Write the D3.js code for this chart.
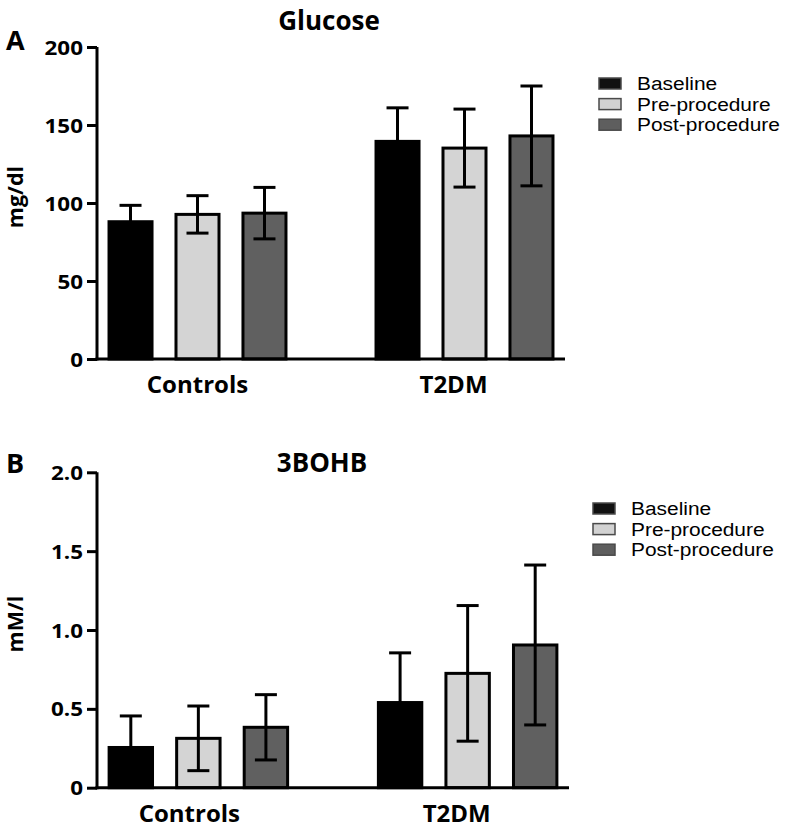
<!DOCTYPE html>
<html>
<head>
<meta charset="utf-8">
<script src="https://cdn.jsdelivr.net/npm/d3@7"></script>
<style>
  html, body { margin: 0; padding: 0; background: #fff; }
  svg { display: block; }
</style>
</head>
<body>
<svg id="chart" width="786" height="833"></svg>
<script>
// ---------------- DATA ----------------
const categories = ["Controls", "T2DM"];
const seriesNames = ["Baseline", "Pre-procedure", "Post-procedure"];
const seriesColors = ["#000000", "#d4d4d4", "#606060"];
const legendColors = ["#111111", "#d2d2d2", "#5e5e5e"];

// Glucose (mg/dl): per category, values for [Baseline, Pre, Post]
const glucoseMean = [[88, 92.7, 93.5], [139.5, 135.2, 143]];
const glucoseErr  = [[10.5, 12, 16.5], [21.5, 25, 32]];
const glucoseTicks = [0, 50, 100, 150, 200];
const glucoseTickLabels = ["0", "50", "100", "150", "200"];

// 3BOHB (mM/l)
const bohbMean = [[0.255, 0.313, 0.383], [0.54, 0.725, 0.905]];
const bohbErr  = [[0.2, 0.205, 0.207], [0.315, 0.43, 0.507]];
const bohbTicks = [0, 0.5, 1.0, 1.5, 2.0];
const bohbTickLabels = ["0", "0.5", "1.0", "1.5", "2.0"];

// ---------------- DRAW ----------------
const svg = d3.select("#chart");
const BOLD = "'Open Sans', 'DejaVu Sans', sans-serif";
const REG = "'Liberation Sans', Arial, sans-serif";

function btext(g, x, y, txt, size, anchor, sx, rotate) {
  return g.append("text")
    .attr("transform", `translate(${x},${y})` + (rotate ? ` rotate(${rotate})` : "") + ` scale(${sx || 1},1)`)
    .attr("text-anchor", anchor || "start")
    .style("font-family", BOLD)
    .style("font-weight", 700)
    .style("font-size", size + "px")
    .attr("fill", "#000")
    .text(txt);
}

function panel(cfg) {
  const g = svg.append("g");
  const y = d3.scaleLinear().domain([0, cfg.ymax]).range([cfg.yBottom, cfg.yTop]);
  const x0 = d3.scaleBand().domain(categories).range(cfg.xRange)
    .paddingInner(0.326).paddingOuter(0.0394);
  const x1 = d3.scaleBand().domain(seriesNames).range([0, x0.bandwidth()])
    .paddingInner(0.313).paddingOuter(0);

  const rows = [];
  categories.forEach((c, ci) => {
    seriesNames.forEach((s, si) => {
      rows.push({ c, s, si, v: cfg.mean[ci][si], e: cfg.err[ci][si] });
    });
  });

  // bars
  g.selectAll("rect.bar").data(rows).enter().append("rect")
    .attr("class", "bar")
    .attr("x", d => x0(d.c) + x1(d.s) + 1.5)
    .attr("width", x1.bandwidth() - 3)
    .attr("y", d => y(d.v))
    .attr("height", d => y(0) - y(d.v))
    .attr("fill", d => seriesColors[d.si])
    .attr("stroke", "#000")
    .attr("stroke-width", 3);

  // error bars
  const cx = d => x0(d.c) + x1(d.s) + x1.bandwidth() / 2;
  const eb = g.selectAll("g.err").data(rows).enter().append("g").attr("class", "err")
    .attr("stroke", "#000").attr("stroke-width", 3);
  eb.append("line")
    .attr("x1", cx).attr("x2", cx)
    .attr("y1", d => y(d.v + d.e)).attr("y2", d => y(Math.max(0, d.v - d.e)));
  eb.append("line")
    .attr("x1", d => cx(d) - 11).attr("x2", d => cx(d) + 11)
    .attr("y1", d => y(d.v + d.e)).attr("y2", d => y(d.v + d.e));
  eb.append("line")
    .attr("x1", d => cx(d) - 11).attr("x2", d => cx(d) + 11)
    .attr("y1", d => y(d.v - d.e)).attr("y2", d => y(d.v - d.e));

  // y axis
  const ya = g.append("g").attr("transform", `translate(${cfg.xRange[0]},0)`)
    .call(d3.axisLeft(y).tickValues(cfg.ticks).tickFormat((d, i) => cfg.tickLabels[i])
      .tickSize(10).tickSizeOuter(0));
  ya.select(".domain").attr("stroke", "#000").attr("stroke-width", 3)
    .attr("d", `M0,${cfg.yBottom + 1.5}V${cfg.yTop}`);
  ya.selectAll(".tick line").attr("stroke", "#000").attr("stroke-width", 3);
  ya.selectAll(".tick text")
    .attr("x", -14 / 1.15)
    .attr("transform", "scale(1.15,1)")
    .attr("dy", "0.36em")
    .style("font-family", BOLD).style("font-weight", 700).style("font-size", "19.5px")
    .attr("fill", "#000");

  // x axis
  const xa = g.append("g").attr("transform", `translate(0,${cfg.yBottom})`)
    .call(d3.axisBottom(x0).tickSize(0).tickSizeOuter(0));
  xa.select(".domain").attr("stroke", "#000").attr("stroke-width", 3)
    .attr("d", `M${cfg.xRange[0] - 1.5},0H${cfg.xRange[1]}`);
  xa.selectAll(".tick text")
    .attr("y", 0).attr("dy", 0)
    .attr("transform", (d, i) => `translate(${cfg.labelShift[i]},${cfg.labelDy})`)
    .style("font-family", BOLD).style("font-weight", 700).style("font-size", "24px")
    .attr("fill", "#000");

  // y label
  btext(g, cfg.yLabelX, (cfg.yTop + cfg.yBottom) / 2 - 6, cfg.yLabel, 21.5, "middle", 1, -90);
  // title
  btext(g, cfg.titleX, cfg.titleY, cfg.title, 26, "middle", 1);
  // panel letter
  btext(g, 6, cfg.letterY, cfg.letter, 27, "start", 1);

  // legend
  const lg = g.append("g");
  seriesNames.forEach((s, i) => {
    const yy = cfg.legendY + i * cfg.legendStep;
    lg.append("rect")
      .attr("x", cfg.legendX + 1).attr("y", yy - 12)
      .attr("width", 22).attr("height", 11)
      .attr("fill", legendColors[i]).attr("stroke", "#4a4a4a").attr("stroke-width", 1.5);
    lg.append("text")
      .attr("transform", `translate(${cfg.legendX + 39},${yy}) scale(1.1,1)`)
      .style("font-family", REG).style("font-size", "19px").attr("fill", "#000")
      .text(s);
  });
}

panel({
  ymax: 200, yTop: 47, yBottom: 359, xRange: [97, 565],
  mean: glucoseMean, err: glucoseErr, ticks: glucoseTicks, tickLabels: glucoseTickLabels,
  labelShift: [0, -11], labelDy: 34,
  yLabel: "mg/dl", yLabelX: 23, title: "Glucose", titleX: 329, titleY: 30,
  letter: "A", letterY: 50,
  legendX: 598, legendY: 90, legendStep: 20.6
});

panel({
  ymax: 2.0, yTop: 472.3, yBottom: 787.7, xRange: [97, 569],
  mean: bohbMean, err: bohbErr, ticks: bohbTicks, tickLabels: bohbTickLabels,
  labelShift: [-9, -11], labelDy: 34,
  yLabel: "mM/l", yLabelX: 23, title: "3BOHB", titleX: 322, titleY: 472,
  letter: "B", letterY: 473,
  legendX: 592, legendY: 515, legendStep: 20.6
});
</script>
</body>
</html>
